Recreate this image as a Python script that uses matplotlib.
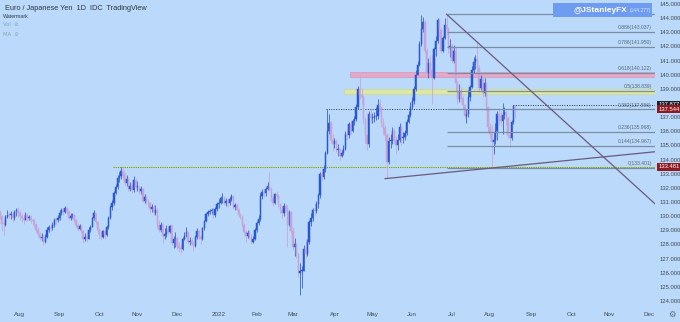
import numpy as np
import pandas as pd
import matplotlib
matplotlib.use("Agg")
import matplotlib.pyplot as plt
import matplotlib.transforms as mtransforms
from matplotlib.patches import Rectangle

# daily EUR/JPY candles, 16 Jul 2021 .. 19 Aug 2022 (one row per month)
first_open = 130.20
close = [
    130.00, 129.45, 129.40, 129.95, 130.10, 130.05, 130.15, 129.85, 130.30, 130.45, 130.20,
    130.00, 129.90, 129.75, 130.05, 129.85, 129.95, 129.75, 129.65, 129.35, 129.05, 128.75, 128.45, 128.55, 128.20, 128.55, 129.00, 129.25, 129.15, 129.40, 129.75, 129.70, 129.85,
    130.25, 130.40, 130.30, 130.55, 130.30, 129.90, 130.00, 130.05, 129.70, 129.40, 129.10, 129.30, 128.95, 128.40, 128.55, 128.40, 129.00, 129.25, 129.85, 130.20, 129.55, 129.00,
    128.75, 128.55, 128.95, 128.65, 129.25, 129.85, 130.65, 130.90, 131.60, 132.05, 132.70, 132.85, 133.20, 132.95, 132.35, 132.60, 131.95, 132.15, 131.85, 132.55, 132.05,
    132.05, 131.75, 131.90, 131.10, 131.35, 131.00, 130.90, 130.50, 130.65, 130.25, 130.45, 129.35, 129.05, 129.40, 128.60, 128.75, 129.10, 128.90, 129.30, 128.10, 128.35, 128.45,
    127.90, 127.75, 127.65, 128.40, 128.60, 128.85, 128.15, 128.25, 128.05, 127.85, 128.50, 128.95, 128.55, 128.35, 129.15, 129.65, 130.15, 130.30, 130.35, 130.40, 130.05, 130.50, 130.85,
    130.95, 131.25, 131.30, 130.90, 131.10, 130.90, 131.20, 131.40, 130.65, 130.80, 130.45, 130.05, 129.95, 129.35, 128.85, 128.60, 128.80, 128.60, 128.20, 128.40, 129.00,
    129.50, 129.80, 131.45, 131.70, 131.60, 131.95, 132.15, 131.95, 131.25, 130.95, 131.55, 131.45, 130.75, 130.45, 130.20, 130.70, 130.60, 129.35, 130.30, 128.95,
    127.80, 128.00, 127.30, 125.95, 126.10, 126.15, 127.65, 127.35, 128.15, 129.55, 129.85, 130.45, 130.35, 130.85, 131.50, 132.95, 132.80, 133.30, 134.45, 136.00, 136.60, 135.40, 135.10,
    135.30, 134.70, 134.75, 134.25, 134.45, 134.75, 135.80, 135.70, 136.50, 136.00, 136.70, 136.90, 137.75, 139.00, 138.55, 138.45, 136.85, 135.70, 135.10, 137.20, 136.95,
    136.95, 137.05, 137.10, 137.85, 137.75, 136.60, 136.25, 135.75, 133.80, 135.30, 135.30, 136.00, 135.40, 135.00, 135.35, 136.30, 135.50, 135.60, 135.85, 136.65, 137.15, 137.70,
    138.15, 139.00, 140.00, 140.70, 142.20, 143.25, 143.70, 141.70, 140.10, 140.85, 140.30, 139.80, 141.80, 142.40, 143.90, 143.15, 141.65, 142.60, 143.55, 143.25, 141.90, 142.00,
    141.00, 141.70, 139.40, 138.30, 138.80, 138.35, 137.85, 137.05, 137.20, 138.45, 139.10, 140.30, 140.90, 141.10, 140.45, 139.05, 139.70, 138.70, 139.40, 137.70, 136.30,
    135.80, 135.25, 135.40, 136.05, 137.25, 137.05, 136.70, 137.15, 137.35, 136.95, 135.75, 135.55, 136.65, 137.80, 137.544,
]
high = [
    130.40, 130.10, 129.80, 130.10, 130.40, 130.30, 130.35, 130.30, 130.40, 130.60, 130.65,
    130.35, 130.15, 130.10, 130.30, 130.20, 130.10, 130.05, 129.90, 129.80, 129.50, 129.20, 128.90, 128.80, 128.70, 128.75, 129.20, 129.40, 129.45, 129.55, 129.90, 129.95, 130.10,
    130.40, 130.55, 130.60, 130.70, 130.65, 130.40, 130.20, 130.25, 130.15, 129.80, 129.50, 129.45, 129.40, 129.00, 128.80, 128.90, 129.20, 129.40, 129.95, 130.45, 130.25, 129.65,
    129.15, 128.95, 129.05, 129.05, 129.40, 130.00, 130.80, 131.15, 131.75, 132.25, 132.90, 133.15, 133.45, 133.40, 133.10, 132.90, 132.75, 132.40, 132.35, 132.85, 132.70,
    132.45, 132.15, 132.15, 132.00, 131.55, 131.45, 131.20, 131.00, 130.85, 130.75, 130.75, 130.55, 129.70, 129.60, 129.50, 129.15, 129.40, 129.30, 129.40, 129.45, 128.60, 128.90,
    128.50, 128.20, 128.05, 128.50, 128.85, 129.20, 128.95, 128.50, 128.45, 128.25, 128.65, 129.15, 129.05, 128.65, 129.25, 129.75, 130.25, 130.45, 130.50, 130.55, 130.60, 130.65, 131.00,
    131.20, 131.40, 131.60, 131.40, 131.25, 131.20, 131.35, 131.55, 131.45, 130.95, 130.90, 130.60, 130.20, 130.05, 129.50, 129.00, 129.05, 128.95, 128.75, 128.60, 129.15,
    129.65, 130.05, 131.60, 131.95, 131.95, 132.05, 132.40, 133.15, 132.05, 131.45, 131.65, 131.80, 131.55, 130.95, 130.70, 130.95, 130.85, 130.75, 130.45, 130.35,
    129.20, 128.45, 128.10, 127.40, 126.70, 126.50, 127.95, 128.35, 128.40, 129.75, 130.20, 130.60, 130.95, 131.10, 131.60, 133.10, 133.30, 133.60, 134.60, 137.55, 137.20, 136.75, 135.80,
    135.55, 135.45, 135.10, 134.80, 134.70, 135.00, 136.00, 136.10, 136.65, 136.75, 136.85, 137.10, 137.95, 139.20, 140.00, 139.05, 138.55, 136.95, 135.80, 137.45, 137.60,
    137.30, 137.35, 137.70, 138.25, 138.30, 137.75, 136.95, 136.45, 135.90, 135.60, 135.80, 136.30, 136.25, 135.75, 135.80, 136.55, 136.40, 135.95, 136.10, 136.85, 137.40, 138.05,
    138.45, 139.20, 140.30, 141.00, 142.40, 144.25, 144.10, 143.90, 141.90, 141.20, 141.40, 141.40, 141.95, 142.75, 144.00, 144.00, 143.30, 142.75, 144.00, 144.277, 143.40, 142.50,
    142.25, 142.10, 141.95, 139.60, 139.35, 139.10, 138.50, 137.95, 137.60, 138.90, 139.25, 140.60, 141.25, 141.40, 142.30, 140.70, 139.95, 139.90, 139.75, 139.45, 137.80,
    136.55, 136.45, 135.95, 136.60, 137.45, 137.65, 137.40, 138.00, 137.70, 137.45, 137.00, 135.90, 136.80, 137.85, 137.877,
]
low = [
    129.80, 128.95, 128.65, 129.30, 129.85, 129.90, 129.80, 129.60, 129.75, 130.00, 129.95,
    129.75, 129.60, 129.45, 129.70, 129.65, 129.70, 129.50, 129.40, 129.20, 128.90, 128.60, 128.30, 128.25, 127.95, 128.10, 128.45, 128.85, 128.95, 129.05, 129.25, 129.45, 129.55,
    129.75, 130.10, 130.10, 130.20, 130.15, 129.75, 129.75, 129.85, 129.55, 129.25, 128.95, 129.00, 128.80, 128.10, 128.25, 128.20, 128.35, 128.85, 129.20, 129.70, 129.45, 128.70,
    128.40, 128.30, 128.45, 128.40, 128.60, 129.10, 129.80, 130.40, 130.80, 131.55, 131.95, 132.40, 132.65, 132.65, 132.10, 132.15, 131.75, 131.75, 131.65, 131.70, 131.95,
    131.75, 131.55, 131.55, 131.00, 130.95, 130.85, 130.65, 130.20, 130.30, 130.05, 130.10, 129.20, 128.90, 128.85, 128.10, 128.40, 128.55, 128.75, 128.80, 127.95, 127.75, 127.80,
    127.70, 127.45, 127.40, 127.60, 128.30, 128.50, 128.05, 127.95, 127.95, 127.55, 127.80, 128.40, 128.35, 128.05, 128.30, 129.05, 129.55, 130.00, 130.15, 130.15, 129.85, 129.95, 130.35,
    130.60, 130.85, 130.90, 130.75, 130.70, 130.65, 130.80, 131.10, 130.50, 130.45, 130.35, 129.95, 129.80, 129.25, 128.70, 128.20, 128.45, 128.40, 128.00, 128.10, 128.30,
    128.90, 129.40, 129.65, 131.20, 131.35, 131.45, 131.85, 131.80, 131.05, 130.70, 130.85, 131.20, 130.65, 130.20, 129.85, 130.00, 130.35, 127.80, 129.30, 128.80,
    127.60, 127.20, 127.05, 125.70, 124.40, 124.90, 126.10, 127.05, 127.20, 128.05, 129.30, 129.65, 130.05, 130.20, 130.60, 131.30, 132.45, 132.60, 133.10, 134.40, 135.80, 135.20, 134.60,
    134.85, 134.55, 134.25, 133.95, 134.15, 134.30, 134.70, 135.35, 135.55, 135.80, 135.95, 136.45, 136.75, 137.60, 138.30, 137.95, 136.60, 135.20, 134.70, 134.90, 136.60,
    136.60, 136.65, 136.80, 136.85, 137.35, 136.30, 135.80, 135.40, 132.65, 133.70, 134.80, 135.10, 135.15, 134.40, 134.65, 135.25, 135.05, 135.20, 135.35, 135.70, 136.55, 137.00,
    137.55, 137.95, 138.85, 140.05, 140.60, 142.05, 143.05, 141.50, 139.95, 139.80, 140.00, 137.90, 139.70, 141.30, 142.25, 142.70, 141.50, 141.60, 142.50, 142.80, 141.50, 141.25,
    140.85, 140.80, 138.90, 137.95, 138.05, 138.10, 137.55, 136.95, 136.60, 137.00, 138.15, 139.05, 140.15, 140.40, 140.15, 138.75, 138.90, 138.45, 138.50, 137.50, 135.95,
    135.55, 133.401, 134.40, 135.10, 135.35, 136.45, 136.40, 135.80, 136.85, 136.45, 135.55, 134.90, 135.40, 136.50, 136.95,
]

month_labels = ["Aug", "Sep", "Oct", "Nov", "Dec", "2022", "Feb", "Mar", "Apr", "May",
                "Jun", "Jul", "Aug", "Sep", "Oct", "Nov", "Dec"]
price_ticks = list(range(124, 146))

fib_ratios = [1, 0.886, 0.786, 0.618, 0.5, 0.382, 0.236, 0.144, 0]
fib_high = 144.277
fib_low = 133.401
last_high = 137.877
last_close = 137.544
support_level = 133.481
mar_high = 137.55

bg = "#bbd9fa"
up_col = "#2957cf"
down_col = "#c6a2d9"
txt = "#3f4a57"

dates = pd.bdate_range("2021-07-16", "2022-08-19")
all_days = pd.bdate_range("2021-07-16", "2022-12-31")
n = len(close)
assert n == len(dates) == len(high) == len(low)
opens = [first_open] + close[:-1]
idx = np.arange(n)

fig = plt.figure(figsize=(6.8, 3.22), dpi=100, facecolor=bg)
ax = fig.add_axes([0, 14 / 322, 655 / 680, 308 / 322])
ax.set_facecolor(bg)
ax.set_xlim(0, 362.3)
ax.set_ylim(123.50, 145.283)
for s in ax.spines.values():
    s.set_visible(False)

# horizontal zones
right = 362.3
ax.add_patch(Rectangle((193.6, 139.82), right - 193.6, 0.36, facecolor="#e3a9c9", edgecolor="#d79bbd", lw=0.6, zorder=1))
ax.add_patch(Rectangle((190.3, 138.60), right - 190.3, 0.36, facecolor="#dde7a6", edgecolor="#cbd894", lw=0.6, zorder=1))
ax.add_patch(Rectangle((62.5, 133.40), right - 62.5, 0.16, facecolor="#c9e0bf", edgecolor="none", zorder=1))
ax.hlines(support_level, 62.5, right, color="#5f8f63", lw=0.8, ls=(0, (1, 1)), zorder=2)
ax.hlines(mar_high, 180.3, right, color="#2c3440", lw=0.7, ls=(0, (1, 1.5)), zorder=2)
ax.hlines(last_high, 283.7, right, color="#2c3440", lw=0.7, ls=(0, (1, 1.5)), zorder=2)

# candles
o = np.array(opens)
c = np.array(close)
h = np.maximum(np.array(high), np.maximum(o, c))
l = np.minimum(np.array(low), np.minimum(o, c))
cols = np.where(c >= o, up_col, down_col)
ax.vlines(idx, l, h, colors=cols, lw=0.55, zorder=3)
ax.bar(idx, np.where(np.abs(c - o) < 0.06, 0.06, c - o), bottom=o, width=0.75,
       color=cols, edgecolor=cols, lw=0.35, zorder=4)

# fibonacci retracement from the June high
rng = fib_high - fib_low
blend = mtransforms.blended_transform_factory(ax.transAxes, ax.transData)
for r in fib_ratios:
    lev = fib_low + r * rng
    ax.hlines(lev, 247, right, color="#7a8ea4", lw=0.9, zorder=5)
    if r != 1:
        lab = f"{r:g}({lev:.3f})"
        ax.annotate(lab, xy=(0.995, lev), xycoords=blend, xytext=(0, 1.2),
                    textcoords="offset points", ha="right", va="bottom",
                    fontsize=3.6, color="#56687c", family="Liberation Sans", zorder=6)

# trendlines
p0, p1 = (247, fib_high), (264, 142.30)
k = (p1[1] - p0[1]) / (p1[0] - p0[0])
ax.plot([p0[0], right], [p0[1], p0[1] + k * (right - p0[0])], color="#6b5a7e", lw=0.9, zorder=5)
q0, q1 = (213, 132.65), (272, fib_low)
k2 = (q1[1] - q0[1]) / (q1[0] - q0[0])
ax.plot([q0[0], right], [q0[1], q0[1] + k2 * (right - q0[0])], color="#6b5a7e", lw=0.9, zorder=5)

# watermark box
ax.add_patch(Rectangle((0.844, 0.945), 0.151, 0.045, transform=ax.transAxes,
                       facecolor="#6e9cf0", edgecolor="none", zorder=7))
ax.text(0.917, 0.967, "@JStanleyFX", transform=ax.transAxes, ha="center", va="center",
        fontsize=6, fontweight="bold", color="white", family="Liberation Sans", zorder=8)
ax.text(0.994, 0.967, f"({fib_high:.3f})", transform=ax.transAxes, ha="right", va="center",
        fontsize=3.6, color="#d8e6ff", family="Liberation Sans", zorder=8)

# axes
ax.yaxis.tick_right()
ticks_shown = [t for t in price_ticks if t != 138]
ax.set_yticks(ticks_shown)
ax.set_yticklabels([f"{t:.3f}" for t in ticks_shown], fontsize=4.2, color=txt, family="Liberation Sans")
ax.tick_params(axis="y", length=0, pad=3)

month_starts = [i for i in range(1, len(all_days)) if all_days[i].month != all_days[i - 1].month]
ax.set_xticks(month_starts)
ax.set_xticklabels(month_labels, fontsize=4.5, color=txt, family="Liberation Sans")
ax.tick_params(axis="x", length=0, pad=3)

for val, fc in [(last_high, "#1c1f24"), (last_close, "#8e1b22"), (support_level, "#8e1b22")]:
    ax.text(1.006, val, f"{val:.3f}", transform=blend, ha="left", va="center", fontsize=4.2,
            color="white", family="Liberation Sans", clip_on=False, zorder=9,
            bbox=dict(boxstyle="square,pad=0.25", fc=fc, ec="none"))

# header
fig.text(5 / 680, 1 - 8 / 322, "Euro / Japanese Yen  1D  IDC  TradingView", fontsize=5.3,
         color="#2e3742", family="Liberation Sans", va="center")
fig.text(3 / 680, 1 - 16 / 322, "Watermark", fontsize=3.8, color="#2e3742",
         family="Liberation Sans", va="center")
fig.text(3 / 680, 1 - 25 / 322, "Vol  \u2298", fontsize=3.8, color="#8aa2bd", va="center")
fig.text(3 / 680, 1 - 35 / 322, "MA  \u2298", fontsize=3.8, color="#8aa2bd", va="center")
fig.text(672 / 680, 8 / 322, "\u2699", fontsize=6, color="#5b6675", ha="center", va="center")

fig.savefig("out.png", dpi=100, facecolor=bg)
